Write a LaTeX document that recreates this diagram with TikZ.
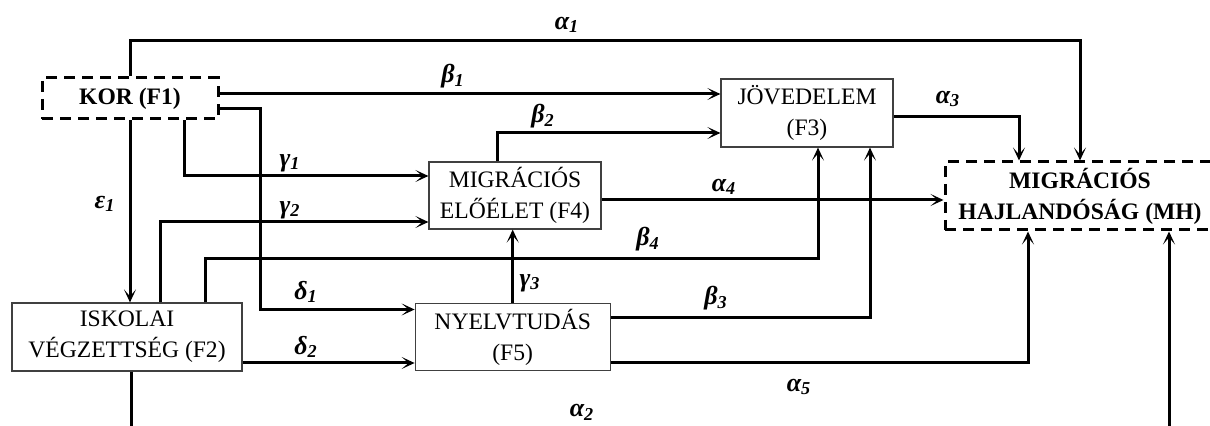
\documentclass[tikz,border=0pt]{standalone}
\usepackage{fontspec}
\setmainfont{Liberation Serif}
\usetikzlibrary{arrows.meta,positioning}

\begin{document}
\begin{tikzpicture}[x=0.5pt, y=-0.5pt,
    box/.style={draw=black!75, line width=0.6pt, align=center, inner sep=0pt, font=\fontsize{11.8}{15.5}\selectfont},
    dbox/.style={box, draw=black, line width=1.5pt, dash pattern=on 5.5pt off 3.5pt, font=\fontsize{11.8}{15.5}\selectfont\bfseries},
    arr/.style={line width=1.5pt, -{Stealth[length=6.5pt, width=6pt, inset=3.5pt]}},
    coef/.style={font=\fontsize{13}{15}\selectfont\bfseries\itshape, inner sep=0pt}]

    \useasboundingbox (0,0) rectangle (1210,426);
    \clip (0,0) rectangle (1210,426);

    \node[dbox, minimum width=88pt, minimum height=20.5pt] (kor) at (130,98.5) {KOR (F1)};
    \node[box, minimum width=115pt, minimum height=34pt] (isk) at (127,337) {ISKOLAI\\VÉGZETTSÉG (F2)};
    \node[box, minimum width=97.5pt, minimum height=33.5pt, right=86pt of isk] (nyelv) {NYELVTUDÁS\\(F5)};
    \node[box, minimum width=86pt, minimum height=33.5pt] (migr) at (515,195.5) {MIGRÁCIÓS\\ELŐÉLET (F4)};
    \node[box, minimum width=86pt, minimum height=34pt] (jov) at (807,113) {JÖVEDELEM\\(F3)};
    \node[dbox, minimum width=135pt, minimum height=34pt] (mh) at (1080,196) {MIGRÁCIÓS\\HAJLANDÓSÁG (MH)};

    \coordinate (b1) at ([yshift=2.25pt]kor.east);
    \coordinate (d1) at ([yshift=-5.25pt]kor.east);
    \coordinate (g1) at ([xshift=27pt]kor.south);
    \coordinate (g2) at ([xshift=16.5pt]isk.north);
    \coordinate (b4) at ([xshift=39pt]isk.north);
    \coordinate (d2) at ([yshift=-13pt]isk.east);
    \coordinate (a2) at ([xshift=2pt]isk.south);
    \coordinate (b3) at ([yshift=9.75pt]nyelv.east);
    \coordinate (a5) at ([yshift=-12.75pt]nyelv.east);
    \coordinate (a4) at ([yshift=-2.25pt]migr.east);
    \coordinate (b2) at ([xshift=-9pt]migr.north);
    \coordinate (a3) at ([yshift=-2pt]jov.east);

    \draw[arr] (kor.north) -- ++(0,-36) -| (mh.north);
    \draw[arr] (b1) -- (b1 -| jov.west);
    \draw[arr] (d1) -- ++(41,0) |- ([yshift=13.75pt]nyelv.west);
    \draw[arr] (g1) |- ([yshift=9.75pt]migr.west);
    \draw[arr] (kor.south) -- (kor.south |- isk.north);
    \draw[arr] (g2) |- ([yshift=-13.25pt]migr.west);
    \draw[arr] (b4) -- ++(0,-44) -| ([xshift=5.5pt]jov.south);
    \draw[arr] (d2) -- (d2 -| nyelv.west);
    \draw[arr] (nyelv.north) -- (nyelv.north |- migr.south);
    \draw[arr] (b3) -| ([xshift=31.5pt]jov.south);
    \draw[arr] (a5) -| ([xshift=-26pt]mh.south);
    \draw[arr] (a4) -- (a4 -| mh.west);
    \draw[arr] (b2) |- ([yshift=-10pt]jov.west);
    \draw[arr] (a3) -| ([xshift=-30.5pt]mh.north);
    \draw[arr] (a2) -- ++(0,75) -| ([xshift=44.5pt]mh.south);

    \node[coef] (la1) at (567,25) {α\textsubscript{1}};
    \node[coef] (lb1) at (453,76) {β\textsubscript{1}};
    \node[coef] (lb2) at (543,116) {β\textsubscript{2}};
    \node[coef] (la3) at (948,99) {α\textsubscript{3}};
    \node[coef] (lg1) at (290,163) {γ\textsubscript{1}};
    \node[coef] (la4) at (724,187) {α\textsubscript{4}};
    \node[coef] (le1) at (105,204) {ε\textsubscript{1}};
    \node[coef] (lg2) at (290,210) {γ\textsubscript{2}};
    \node[coef] (lb4) at (648,239) {β\textsubscript{4}};
    \node[coef] (lg3) at (530,283) {γ\textsubscript{3}};
    \node[coef] (ld1) at (306,292) {δ\textsubscript{1}};
    \node[coef] (lb3) at (716,298) {β\textsubscript{3}};
    \node[coef] (ld2) at (306,347) {δ\textsubscript{2}};
    \node[coef] (la5) at (799,387) {α\textsubscript{5}};
    \node[coef] (la2) at (582,412) {α\textsubscript{2}};

\end{tikzpicture}
\end{document}
